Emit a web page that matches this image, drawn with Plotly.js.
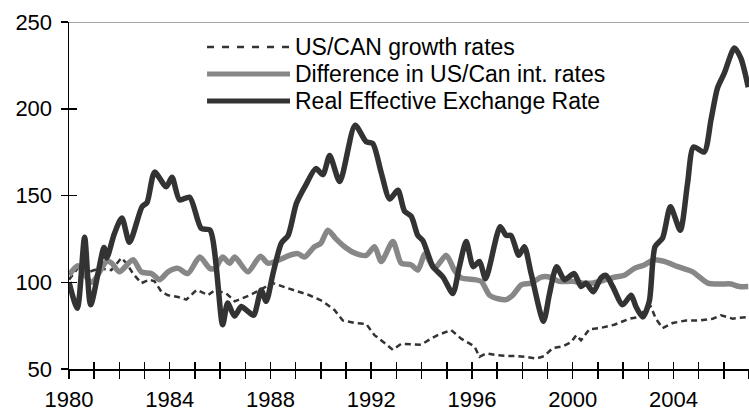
<!DOCTYPE html>
<html>
<head>
<meta charset="utf-8">
<script src="https://cdn.plot.ly/plotly-3.0.1.min.js"></script>
<style>
html,body{margin:0;padding:0;background:#fff;}
#chart{width:749px;height:413px;}
</style>
</head>
<body>
<div id="chart"></div>
<script>
// ---- Data ----
var seriesNames = ["US/CAN growth rates", "Difference in US/Can int. rates", "Real Effective Exchange Rate"];

var growthYears = [1980.0,1980.42,1980.8,1981.2,1981.68,1982.08,1982.28,1982.54,1982.87,1983.2,1983.4,1983.67,1983.93,1984.33,1984.66,1985.06,1985.25,1985.52,1985.8,1986.25,1986.58,1987.17,1987.57,1988.1,1988.5,1989.03,1989.55,1990.08,1990.54,1990.87,1991.34,1991.8,1992.13,1992.53,1992.86,1993.19,1993.65,1993.98,1994.38,1994.64,1995.17,1995.57,1996.1,1996.3,1996.56,1996.96,1997.36,1997.76,1998.15,1998.55,1998.88,1999.2,1999.6,1999.94,2000.14,2000.33,2000.67,2001.06,2001.65,2002.25,2002.64,2002.9,2003.1,2003.3,2003.57,2003.97,2004.5,2005.03,2005.56,2005.89,2006.35,2006.94];
var growthValues = [101.5,109.5,106,108,107,114,111,105,99.5,101.5,100.5,94.5,92.5,91.5,90,95.5,94.5,92.5,95.5,93.5,89,92.5,95.5,99.5,97.5,95,92.5,89,84,78,76.5,76,69.5,65,61,64.5,64,64,67.5,69.5,72.5,67.5,63,57,59,58,57.5,57.5,57,56,57.5,62,63,65.5,69.5,66.5,73,73.5,75.5,79,80,85,86,79,73.5,76.5,78,78,79,81,79,80];

var rateYears = [1980.0,1980.35,1980.9,1981.5,1981.7,1982.0,1982.54,1982.87,1983.27,1983.6,1983.93,1984.33,1984.72,1985.19,1985.59,1985.8,1986.1,1986.38,1986.58,1987.1,1987.6,1987.9,1988.36,1988.75,1989.09,1989.35,1989.75,1990.0,1990.28,1990.6,1990.94,1991.4,1991.8,1992.13,1992.4,1992.86,1993.19,1993.59,1993.85,1994.14,1994.5,1994.98,1995.3,1995.57,1996.1,1996.37,1996.7,1997.04,1997.36,1997.62,1997.96,1998.35,1998.75,1999.08,1999.47,2000.0,2000.4,2000.79,2001.32,2001.7,2002.05,2002.45,2002.84,2003.24,2003.64,2004.17,2004.76,2005.36,2005.89,2006.28,2006.62,2006.97];
var rateValues = [104,109.5,100,112,111,106,113,106,105,101.5,106,108,105,114.5,108,108,114.5,111,114.5,106,115,111,113,115.5,116.5,114.5,120.5,122.5,130,125,120.5,116.5,115.5,120.5,112,123.5,111,110,107,116.5,108,115.5,107,102.5,101.5,100.5,92.5,90.5,90,92.5,98.5,99.5,103,103,100.5,100.5,99.5,99.5,101.5,103,104,108,110,113,112,109,106,99.5,99,99,97.5,97.5];

var reerYears = [1980.0,1980.33,1980.62,1980.86,1981.39,1981.5,1981.8,1982.1,1982.4,1982.9,1983.1,1983.4,1983.86,1984.09,1984.39,1984.79,1985.25,1985.6,1986.1,1986.3,1986.57,1986.84,1987.04,1987.33,1987.63,1987.83,1988.1,1988.43,1988.7,1989.03,1989.4,1989.8,1990.08,1990.35,1990.75,1991.36,1991.8,1992.06,1992.4,1992.73,1993.06,1993.32,1993.59,1993.85,1994.05,1994.45,1994.85,1995.24,1995.5,1995.77,1996.05,1996.3,1996.54,1997.12,1997.36,1997.55,1997.86,1998.08,1998.35,1998.84,1999.08,1999.36,1999.67,2000.06,2000.33,2000.53,2000.82,2001.12,2001.32,2001.59,2001.98,2002.32,2002.51,2002.78,2003.04,2003.27,2003.57,2003.88,2004.27,2004.56,2004.8,2005.22,2005.49,2005.75,2006.02,2006.42,2006.68,2006.97];
var reerValues = [100,85,126,87,120,114,128,137,123,143.5,146,163.5,155,160.5,147.5,149,131,130,75.5,88,80.5,86,84,81,95.5,89,105,122.5,127,145.5,156,165.5,162,173,158,190.5,181,180,163,148,153,141,138,127,124,109,103,93.5,109,123.5,109,112,102,132,127,127,115.5,120.5,105,77.5,93.5,109,101.5,105,97.5,99.5,94.5,102.5,104,97.5,87,92.5,86,80,89,120.5,125.5,143.5,130,157,178,175,193.5,212,220.5,235,229,212.5];

var tickYears = [];
var tickLabels = [];
for (var yr = 1980; yr <= 2007; yr++) {
  tickYears.push(yr);
  tickLabels.push(yr % 4 === 0 && yr <= 2004 ? String(yr) : "");
}
var yTicks = [50, 100, 150, 200, 250];

// ---- Styles ----
var FONT = "Liberation Sans, Arial, sans-serif";
var DARK = "#333333";
var GRAY = "#878787";

var traces = [
  {x: growthYears, y: growthValues, name: seriesNames[0], type: "scatter", mode: "lines",
   line: {color: DARK, width: 2.5, dash: "6px,4px"}},
  {x: rateYears, y: rateValues, name: seriesNames[1], type: "scatter", mode: "lines",
   line: {color: GRAY, width: 5.5, shape: "spline", smoothing: 0.7}},
  {x: reerYears, y: reerValues, name: seriesNames[2], type: "scatter", mode: "lines",
   line: {color: DARK, width: 5.5, shape: "spline", smoothing: 0.7}},
  // empty helper trace so the overlay axes (inner half of the crossing ticks) get drawn
  {x: [], y: [], xaxis: "x2", yaxis: "y2", type: "scatter", mode: "lines", showlegend: false, hoverinfo: "skip"}
];

// legend drawn manually so the sample lines match the long samples of the original
var legY = [0.928, 0.850, 0.772];
var legStyles = [
  {color: DARK, width: 2.5, dash: "7px,8px"},
  {color: GRAY, width: 5, dash: "solid"},
  {color: DARK, width: 5, dash: "solid"}
];
var shapes = [
  {type: "line", xref: "paper", yref: "y", x0: -0.0103, x1: 1, y0: 250, y1: 250,
   line: {color: GRAY, width: 1.5}, layer: "below"}
];
var annotations = [];
for (var i = 0; i < 3; i++) {
  shapes.push({type: "line", xref: "paper", yref: "paper", x0: 0.203, x1: 0.325,
    y0: legY[i], y1: legY[i], line: legStyles[i]});
  annotations.push({xref: "paper", yref: "paper", x: 0.329, y: legY[i], text: seriesNames[i],
    showarrow: false, xanchor: "left", yanchor: "middle",
    font: {family: FONT, size: 23, color: "#000"}});
}

var layout = {
  width: 749, height: 413,
  margin: {l: 69, r: 0, t: 22, b: 44, pad: 0},
  paper_bgcolor: "#fff", plot_bgcolor: "#fff",
  showlegend: false,
  font: {family: FONT, size: 22, color: "#000"},
  xaxis: {range: [1980, 2007], tickmode: "array", tickvals: tickYears, ticktext: tickLabels,
    ticks: "outside", ticklen: 8, tickwidth: 1.5, tickcolor: "#000", ticklabelstandoff: 2,
    showline: true, linecolor: "#000", linewidth: 1.5, showgrid: false, zeroline: false,
    tickfont: {family: FONT, size: 22, color: "#000"}},
  xaxis2: {range: [1980, 2007], overlaying: "x", anchor: "y2", tickmode: "array", tickvals: tickYears,
    ticks: "inside", ticklen: 7, tickwidth: 1.5, tickcolor: "#000", showticklabels: false,
    showline: false, showgrid: false, zeroline: false, fixedrange: true},
  yaxis: {range: [50, 250], tickmode: "array", tickvals: yTicks,
    ticks: "outside", ticklen: 7, tickwidth: 1.5, tickcolor: "#000", ticklabelstandoff: 4,
    showline: true, linecolor: "#000", linewidth: 1.5, showgrid: false, zeroline: false,
    tickfont: {family: FONT, size: 22, color: "#000"}},
  yaxis2: {range: [50, 250], overlaying: "y", anchor: "x2", side: "left", tickmode: "array", tickvals: yTicks,
    ticks: "inside", ticklen: 8, tickwidth: 1.5, tickcolor: "#000", showticklabels: false,
    showline: false, showgrid: false, zeroline: false, fixedrange: true},
  shapes: shapes,
  annotations: annotations
};

Plotly.newPlot("chart", traces, layout, {displayModeBar: false, staticPlot: true});
</script>
</body>
</html>
